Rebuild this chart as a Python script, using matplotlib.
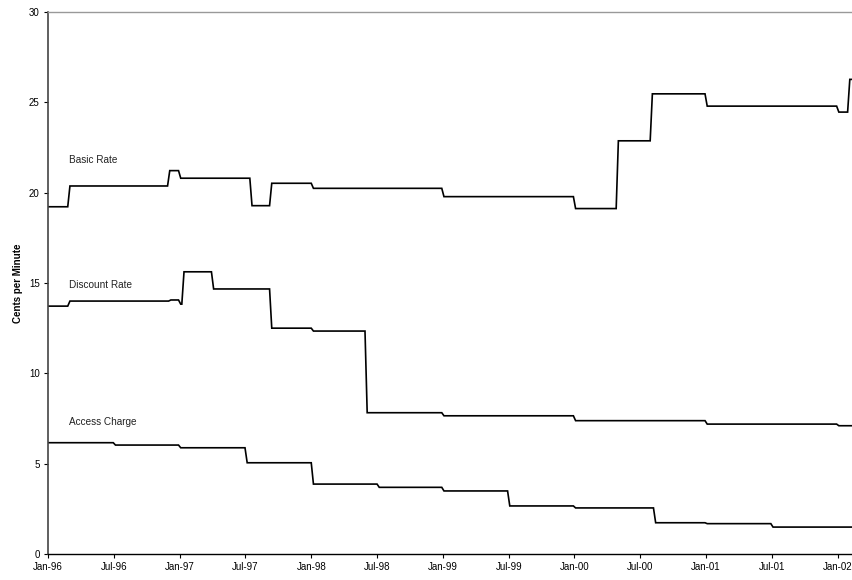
import matplotlib
matplotlib.use("Agg")
import matplotlib.pyplot as plt
import numpy as np

plt.rcParams['font.family'] = ['Liberation Sans', 'DejaVu Sans']

# Months since Jan-96 at which each rate changes, and the new value (cents per minute)
basic_months = [0, 1.8, 10.9, 11.9, 18.4, 20.2, 24.0, 35.9, 47.9, 51.8, 54.9, 59.9, 71.9, 72.9]
basic_values = [19.22, 20.37, 21.22, 20.80, 19.28, 20.52, 20.24, 19.78, 19.12, 22.87, 25.47, 24.79, 24.46, 26.27]

discount_months = [0, 1.8, 11.0, 11.9, 12.2, 14.9, 20.2, 24.0, 28.9, 35.9, 47.9, 59.9, 71.9]
discount_values = [13.72, 14.00, 14.06, 13.83, 15.62, 14.67, 12.50, 12.34, 7.82, 7.65, 7.38, 7.19, 7.10]

access_months = [0, 5.95, 11.9, 17.96, 24.0, 30.0, 35.9, 41.9, 47.9, 55.2, 59.9, 65.9]
access_values = [6.16, 6.03, 5.88, 5.05, 3.87, 3.69, 3.49, 2.66, 2.55, 1.73, 1.68, 1.49]

end_month = 73.3
tick_labels = ["Jan-96", "Jul-96", "Jan-97", "Jul-97", "Jan-98", "Jul-98", "Jan-99",
               "Jul-99", "Jan-00", "Jul-00", "Jan-01", "Jul-01", "Jan-02"]
series_labels = ["Basic Rate", "Discount Rate", "Access Charge"]


def step_path(months, values, end, ramp=0.2):
    xs, ys = [months[0]], [values[0]]
    for i in range(1, len(months)):
        xs += [months[i], months[i] + ramp]
        ys += [values[i - 1], values[i]]
    xs.append(end)
    ys.append(values[-1])
    return xs, ys


fig = plt.figure(figsize=(8.53, 5.80), dpi=100)
ax = fig.add_axes([48 / 853, 26 / 580, 804 / 853, 542 / 580])

for m, v in [(basic_months, basic_values), (discount_months, discount_values),
             (access_months, access_values)]:
    xs, ys = step_path(m, v, end_month)
    ax.plot(xs, ys, color='black', lw=1.2, solid_joinstyle='miter')

ax.set_xlim(0, end_month)
ax.set_ylim(0, 30)
ax.set_xticks(np.arange(0, 73, 6))
ax.set_xticklabels(tick_labels)
ax.set_yticks(np.arange(0, 31, 5))
ax.tick_params(axis='both', direction='out', length=3, width=0.8, labelsize=7, colors='black', pad=3)

ax.spines['right'].set_visible(False)
ax.spines['top'].set_color('#999999')
ax.spines['top'].set_linewidth(1.0)
ax.spines['left'].set_color('#444444')
ax.spines['left'].set_linewidth(1.2)
ax.spines['bottom'].set_color('black')
ax.spines['bottom'].set_linewidth(1.0)

ax.set_ylabel("Cents per Minute", fontsize=7, fontweight='bold', labelpad=4)

label_y = [21.8, 14.9, 7.3]
for text, yv in zip(series_labels, label_y):
    ax.text(1.9, yv, text, fontsize=7.2, ha='left', va='center', color='#222222')

fig.savefig("out.png", dpi=100)
